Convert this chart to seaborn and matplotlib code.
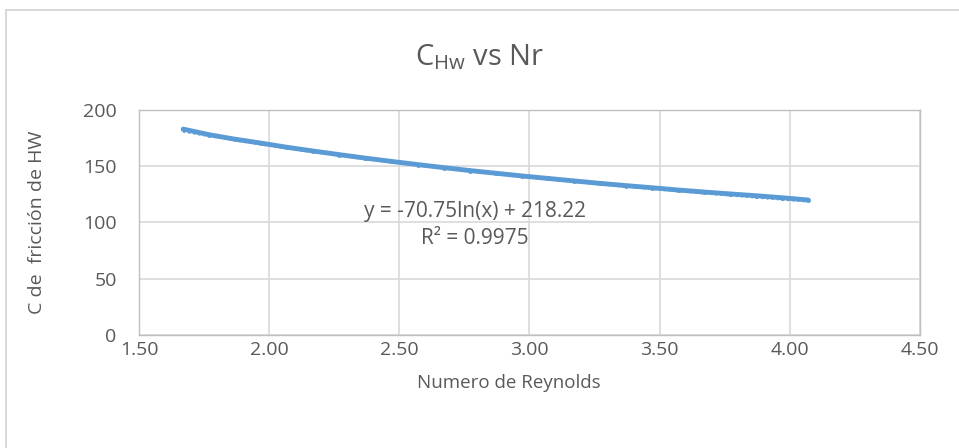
import numpy as np
import pandas as pd
import matplotlib.pyplot as plt
import seaborn as sns
from matplotlib.patches import Rectangle

# Numero de Reynolds (x) vs C de friccion de HW (y)
reynolds = [1.67, 1.77, 1.87, 1.97, 2.07, 2.17, 2.27, 2.37, 2.47, 2.57, 2.67, 2.77, 2.87,
            2.97, 3.07, 3.17, 3.27, 3.37, 3.47, 3.57, 3.67, 3.77, 3.87, 3.97, 4.07]
c_hw = [183.0, 178.0, 174.0, 170.5, 166.8, 163.5, 160.3, 157.2, 154.3, 151.5, 148.8, 146.2, 143.8,
        141.4, 139.2, 137.0, 134.8, 132.8, 130.9, 128.9, 127.1, 125.4, 123.8, 122.0, 120.0]

x_ticks = [1.5, 2.0, 2.5, 3.0, 3.5, 4.0, 4.5]
y_ticks = [0, 50, 100, 150, 200]

blue = "#5B9BD5"
grey_txt = "#595959"
grid_c = "#D9D9D9"

sns.set_style("white")
plt.rcParams['font.family'] = ['Open Sans', 'DejaVu Sans']

df = pd.DataFrame({"Nr": reynolds, "C": c_hw})

fig = plt.figure(figsize=(9.59, 4.48), dpi=100)
ax = fig.add_axes([0.1449, 0.2522, 0.8144, 0.5023])

sns.lineplot(x="Nr", y="C", data=df, ax=ax, color=blue, lw=3.5, marker="o",
             markersize=3.5, markeredgewidth=0)

# log trendline
a, b = np.polyfit(np.log(reynolds), c_hw, 1)
xt = np.array(sorted(reynolds))
ax.plot(xt, a * np.log(xt) + b - 1.2, color=blue, lw=1.4, ls=":")

ax.set_xlim(1.5, 4.5)
ax.set_ylim(0, 200)
ax.set_xticks(x_ticks)
ax.set_yticks(y_ticks)
ax.set_xticklabels([f"{v:.2f}" for v in x_ticks])
ax.tick_params(colors=grey_txt, labelsize=14, length=0)
ax.tick_params(axis="y", pad=16)
ax.tick_params(axis="x", pad=4)
ax.grid(True, color=grid_c, lw=1.2)
ax.set_axisbelow(True)
for s in ax.spines.values():
    s.set_color("#BFBFBF")
    s.set_linewidth(1)

ax.set_xlabel("Numero de Reynolds", color=grey_txt, fontsize=13.5)
ax.xaxis.set_label_coords(0.474, -0.213)
ax.xaxis.label.set_va("center")
ax.set_ylabel("C de  fricción de HW", color=grey_txt, fontsize=14)
ax.yaxis.set_label_coords(-0.1306, 0.5)
ax.yaxis.label.set_va("center")
fig.text(0.5, 0.872, r"C$_{\mathregular{Hw}}$ vs Nr", ha="center", va="center",
         color=grey_txt, fontsize=21)

ax.text(2.79, 109.5, "y = -70.75ln(x) + 218.22", ha="center", va="center",
        color=grey_txt, fontsize=15)
ax.text(2.79, 86, "R² = 0.9975", ha="center", va="center",
        color=grey_txt, fontsize=15)

fig.patches.append(Rectangle((6 / 959, -0.05), 1.0, 1 - 10 / 448 + 0.05,
                             transform=fig.transFigure, fill=False,
                             edgecolor="#D9D9D9", lw=1.5))

plt.savefig("out.png", dpi=100)
